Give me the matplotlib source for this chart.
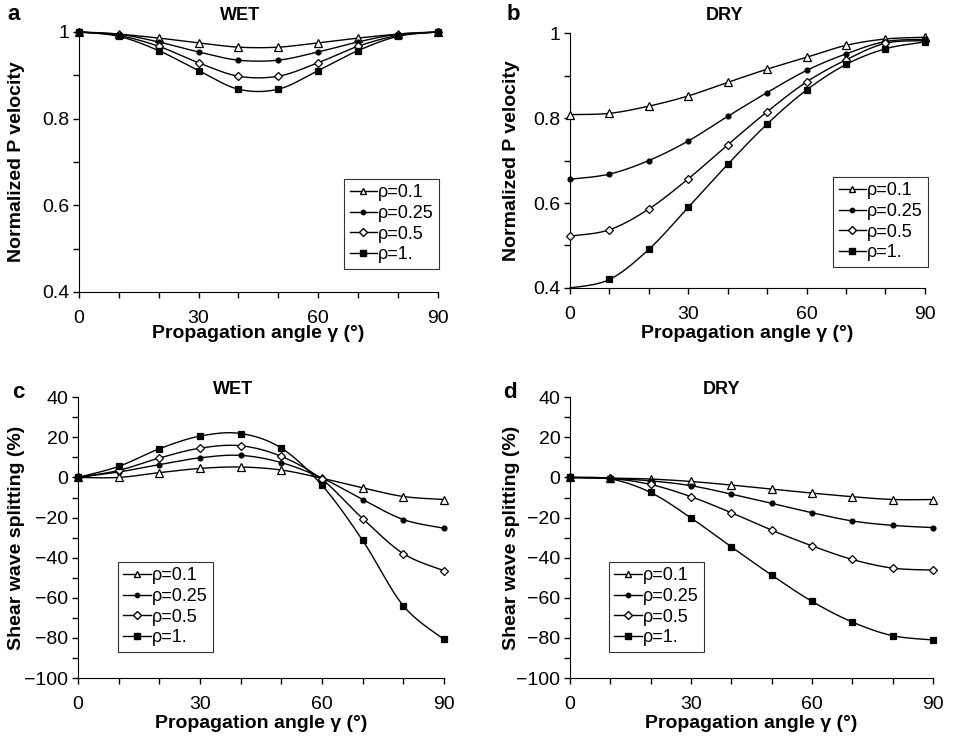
import numpy as np
import matplotlib.pyplot as plt
from matplotlib.lines import Line2D

plt.rcParams['font.family'] = ['Liberation Sans', 'DejaVu Sans']

# Données
angles = [0, 10, 20, 30, 40, 50, 60, 70, 80, 90]
labels = ['ρ=0.1', 'ρ=0.25', 'ρ=0.5', 'ρ=1.']

vp_wet_01 = [1.0, 0.995, 0.986, 0.975, 0.965, 0.965, 0.975, 0.986, 0.995, 1.0]
vp_wet_025 = [1.0, 0.995, 0.977, 0.954, 0.935, 0.935, 0.954, 0.977, 0.995, 1.0]
vp_wet_05 = [1.0, 0.992, 0.967, 0.929, 0.898, 0.898, 0.929, 0.967, 0.992, 1.0]
vp_wet_1 = [1.0, 0.990, 0.957, 0.911, 0.868, 0.868, 0.911, 0.957, 0.990, 1.0]

vp_dry_01 = [0.808, 0.811, 0.828, 0.852, 0.884, 0.915, 0.943, 0.971, 0.986, 0.990]
vp_dry_025 = [0.656, 0.668, 0.700, 0.746, 0.804, 0.860, 0.912, 0.951, 0.980, 0.985]
vp_dry_05 = [0.522, 0.537, 0.586, 0.657, 0.737, 0.815, 0.885, 0.937, 0.976, 0.982]
vp_dry_1 = [0.400, 0.420, 0.491, 0.590, 0.691, 0.786, 0.866, 0.926, 0.963, 0.979]

sws_wet_01 = [0, 0.0, 2.4, 4.5, 5.2, 3.7, -0.4, -5.2, -9.5, -11.0]
sws_wet_025 = [0, 2.7, 6.4, 9.8, 11.0, 7.4, -0.3, -11.0, -21.0, -25.3]
sws_wet_05 = [0, 3.5, 9.7, 14.6, 15.8, 10.5, -1.0, -20.5, -38.0, -46.5]
sws_wet_1 = [0, 5.5, 14.3, 20.6, 21.9, 14.6, -3.9, -31.4, -64.0, -80.7]

sws_dry_01 = [0, -0.3, -0.8, -2.0, -3.8, -5.8, -7.8, -9.6, -11.0, -11.0]
sws_dry_025 = [0, -0.5, -1.7, -4.1, -8.3, -12.9, -17.6, -21.7, -23.9, -25.0]
sws_dry_05 = [0, -0.5, -3.5, -9.6, -17.6, -26.3, -34.1, -40.9, -45.2, -46.2]
sws_dry_1 = [0, -0.7, -7.5, -20.2, -34.6, -48.7, -61.8, -72.1, -78.9, -81.0]

# Styles des marqueurs
styles = [
    dict(marker='^', mfc='white', ms=5.5),
    dict(marker='o', mfc='black', ms=3.5),
    dict(marker='D', mfc='white', ms=4),
    dict(marker='s', mfc='black', ms=4.8),
]


def lissage(x, y, n=20):
    # courbe lissée type Catmull-Rom (comme Excel)
    p = np.column_stack([x, y]).astype(float)
    p = np.vstack([p[0], p, p[-1]])
    t = np.linspace(0, 1, n, endpoint=False)[:, None]
    res = []
    for i in range(1, len(p) - 2):
        p0, p1, p2, p3 = p[i - 1], p[i], p[i + 1], p[i + 2]
        seg = 0.5 * ((2 * p1) + (-p0 + p2) * t
                     + (2 * p0 - 5 * p1 + 4 * p2 - p3) * t**2
                     + (-p0 + 3 * p1 - 3 * p2 + p3) * t**3)
        res.append(seg)
    res.append(p[-2][None, :])
    res = np.vstack(res)
    return res[:, 0], res[:, 1]


def trace(ax, series, skip_first=None):
    for k, (y, st) in enumerate(zip(series, styles)):
        xs, ys = lissage(angles, y)
        ax.plot(xs, ys, color='black', lw=1, clip_on=False)
        xm, ym = np.array(angles), np.array(y)
        if skip_first is not None and k in skip_first:
            xm, ym = xm[1:], ym[1:]
        ax.plot(xm, ym, ls='none', marker=st['marker'], mfc=st['mfc'],
                mec='black', ms=st['ms'], mew=0.9, clip_on=False, zorder=3)


def mise_en_forme(ax, ylim, major, minor, ylabel, xlab_y, ylab_x, yfmt=None):
    ax.set_xlim(0, 90)
    ax.set_ylim(*ylim)
    ax.set_xticks([0, 30, 60, 90])
    ax.set_xticks(np.arange(0, 91, 10), minor=True)
    ax.set_yticks(major)
    ax.set_yticks(minor, minor=True)
    if yfmt:
        ax.set_yticklabels(yfmt)
    ax.spines['top'].set_visible(False)
    ax.spines['right'].set_visible(False)
    ax.tick_params(which='both', direction='out', labelsize=14, width=1, length=4)
    ax.tick_params(axis='x', pad=9)
    ax.tick_params(axis='y', pad=3)
    ax.set_xlabel('Propagation angle γ (°)', fontsize=14, fontweight='bold', va='center')
    ax.set_ylabel(ylabel, fontsize=14, fontweight='bold', va='center')
    bb = ax.get_position()
    ax.xaxis.set_label_coords((bb.x0 + bb.x1) / 2, 1 - xlab_y / 739, transform=fig.transFigure)
    ax.yaxis.set_label_coords(ylab_x / 954, (bb.y0 + bb.y1) / 2, transform=fig.transFigure)


def legende(ax, loc, anchor):
    handles = [Line2D([], [], color='black', lw=1, marker=st['marker'], mfc=st['mfc'],
                      mec='black', ms=st['ms'] * 0.9) for st in styles]
    leg = ax.legend(handles, labels, loc=loc, bbox_to_anchor=anchor,
                    bbox_transform=fig.transFigure, fontsize=13, frameon=True,
                    fancybox=False, edgecolor='black', handlelength=1.5,
                    handletextpad=0.05, labelspacing=0.2, borderpad=0.3,
                    borderaxespad=0)
    leg.get_frame().set_linewidth(0.8)


fig = plt.figure(figsize=(9.54, 7.39), dpi=100)
ax_a = fig.add_axes([0.0828, 0.6049, 0.376, 0.3518])
ax_b = fig.add_axes([0.5975, 0.6103, 0.372, 0.345])
ax_c = fig.add_axes([0.0818, 0.0825, 0.3836, 0.380])
ax_d = fig.add_axes([0.5975, 0.0825, 0.3805, 0.380])

trace(ax_a, [vp_wet_01, vp_wet_025, vp_wet_05, vp_wet_1])
trace(ax_b, [vp_dry_01, vp_dry_025, vp_dry_05, vp_dry_1], skip_first=[3])
trace(ax_c, [sws_wet_01, sws_wet_025, sws_wet_05, sws_wet_1])
trace(ax_d, [sws_dry_01, sws_dry_025, sws_dry_05, sws_dry_1])

vp_fmt = ['0.4', '0.6', '0.8', '1']
mise_en_forme(ax_a, (0.4, 1.0), [0.4, 0.6, 0.8, 1.0], [0.5, 0.7, 0.9],
              'Normalized P velocity', 334, 17, vp_fmt)
mise_en_forme(ax_b, (0.4, 1.0), [0.4, 0.6, 0.8, 1.0], [0.5, 0.7, 0.9],
              'Normalized P velocity', 334, 512, vp_fmt)
mise_en_forme(ax_c, (-100, 40), np.arange(-100, 41, 20), np.arange(-90, 40, 20),
              'Shear wave splitting (%)', 724, 17)
mise_en_forme(ax_d, (-100, 40), np.arange(-100, 41, 20), np.arange(-90, 40, 20),
              'Shear wave splitting (%)', 724, 512)

legende(ax_a, 'upper right', (0.4602, 0.7578))
legende(ax_b, 'upper right', (0.9727, 0.7605))
legende(ax_c, 'upper left', (0.1237, 0.2395))
legende(ax_d, 'upper left', (0.6384, 0.2395))

# Titres et lettres
fig.text(240 / 954, 1 - 15 / 739, 'WET', ha='center', va='center', fontsize=13, fontweight='bold')
fig.text(725 / 954, 1 - 15 / 739, 'DRY', ha='center', va='center', fontsize=13, fontweight='bold')
fig.text(233 / 954, 1 - 390 / 739, 'WET', ha='center', va='center', fontsize=13, fontweight='bold')
fig.text(722 / 954, 1 - 390 / 739, 'DRY', ha='center', va='center', fontsize=13, fontweight='bold')
for lx, ly, lt in [(14, 14, 'a'), (513, 14, 'b'), (18, 392, 'c'), (510, 392, 'd')]:
    fig.text(lx / 954, 1 - ly / 739, lt, ha='center', va='center', fontsize=16, fontweight='bold')

fig.savefig('out.png', dpi=100)
